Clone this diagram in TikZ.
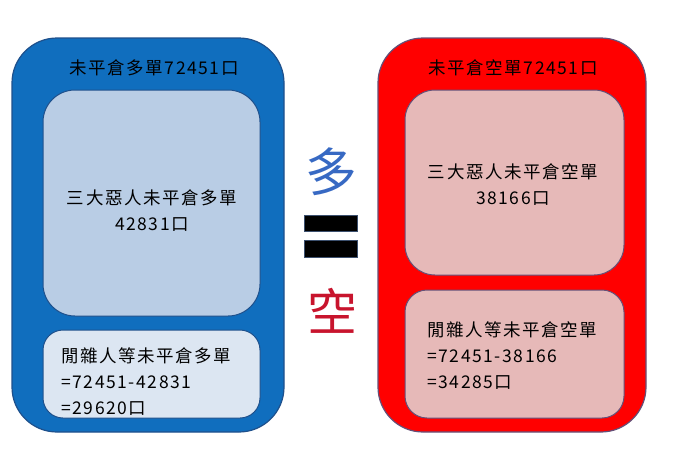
\documentclass[tikz,border=0pt]{standalone}
\usepackage{fontspec}
\setmainfont{Liberation Serif}
\newfontfamily\cjk[LetterSpace=9]{Noto Sans CJK TC}
\newfontfamily\cjkbig{Noto Sans CJK TC}
\definecolor{outerblue}{RGB}{16,110,190}
\definecolor{blueedge}{RGB}{30,80,140}
\definecolor{innerblue}{RGB}{185,205,229}
\definecolor{paleblue}{RGB}{220,230,242}
\definecolor{outerred}{RGB}{255,0,0}
\definecolor{rededge}{RGB}{100,80,120}
\definecolor{innerpink}{RGB}{230,185,184}
\definecolor{duoblue}{RGB}{55,105,195}
\definecolor{kongred}{RGB}{200,20,45}
\definecolor{baredge}{RGB}{60,80,110}
\begin{document}
\begin{tikzpicture}[x=1pt,y=-1pt,
  outerL/.style={draw=blueedge,line width=1.2pt,fill=outerblue,rounded corners=45pt},
  outerR/.style={draw=rededge,line width=1.2pt,fill=outerred,rounded corners=45pt},
  innerL/.style={draw=blueedge,line width=1pt,fill=innerblue,rounded corners=32pt},
  smallL/.style={draw=blueedge,line width=1pt,fill=paleblue,rounded corners=20pt},
  innerR/.style={draw=rededge,line width=1pt,fill=innerpink,rounded corners=30pt},
  smallR/.style={draw=rededge,line width=1pt,fill=innerpink,rounded corners=22pt},
  txt/.style={font=\cjk\fontsize{17.5}{26}\selectfont,text=black,inner sep=0pt},
  bar/.style={draw=baredge,line width=1pt,fill=black}]
\useasboundingbox (0,0) rectangle (673,472);
% left
\draw[outerL] (12,38) rectangle (284,432);
\draw[innerL] (43,90) rectangle (260,316);
\draw[smallL] (43,330) rectangle (260,418);
\node[txt] (tl) at (154,68) {未平倉多單72451口};
\node[txt,align=center] (ml) at (152,211) {三大惡人未平倉多單\\42831口};
\node[txt,align=left,anchor=west] (bl) at (61,382) {閒雜人等未平倉多單\\=72451-42831\\=29620口};
% right
\draw[outerR] (378,38) rectangle (646,432);
\draw[innerR] (405,90) rectangle (624,275);
\draw[smallR] (405,290) rectangle (624,418);
\node[txt] (tr) at (513,68) {未平倉空單72451口};
\node[txt,align=center] (mr) at (513,185) {三大惡人未平倉空單\\38166口};
\node[txt,align=left,anchor=west] (br) at (427,356) {閒雜人等未平倉空單\\=72451-38166\\=34285口};
% middle
\node[font=\cjkbig\fontsize{52}{52}\selectfont,text=duoblue,inner sep=0pt] (duo) at (331,172) {多};
\draw[bar] (304,215) rectangle (357,231);
\draw[bar] (304,240) rectangle (357,257);
\node[font=\cjkbig\fontsize{50}{50}\selectfont,text=kongred,inner sep=0pt] (kong) at (332,311) {空};
\end{tikzpicture}
\end{document}
